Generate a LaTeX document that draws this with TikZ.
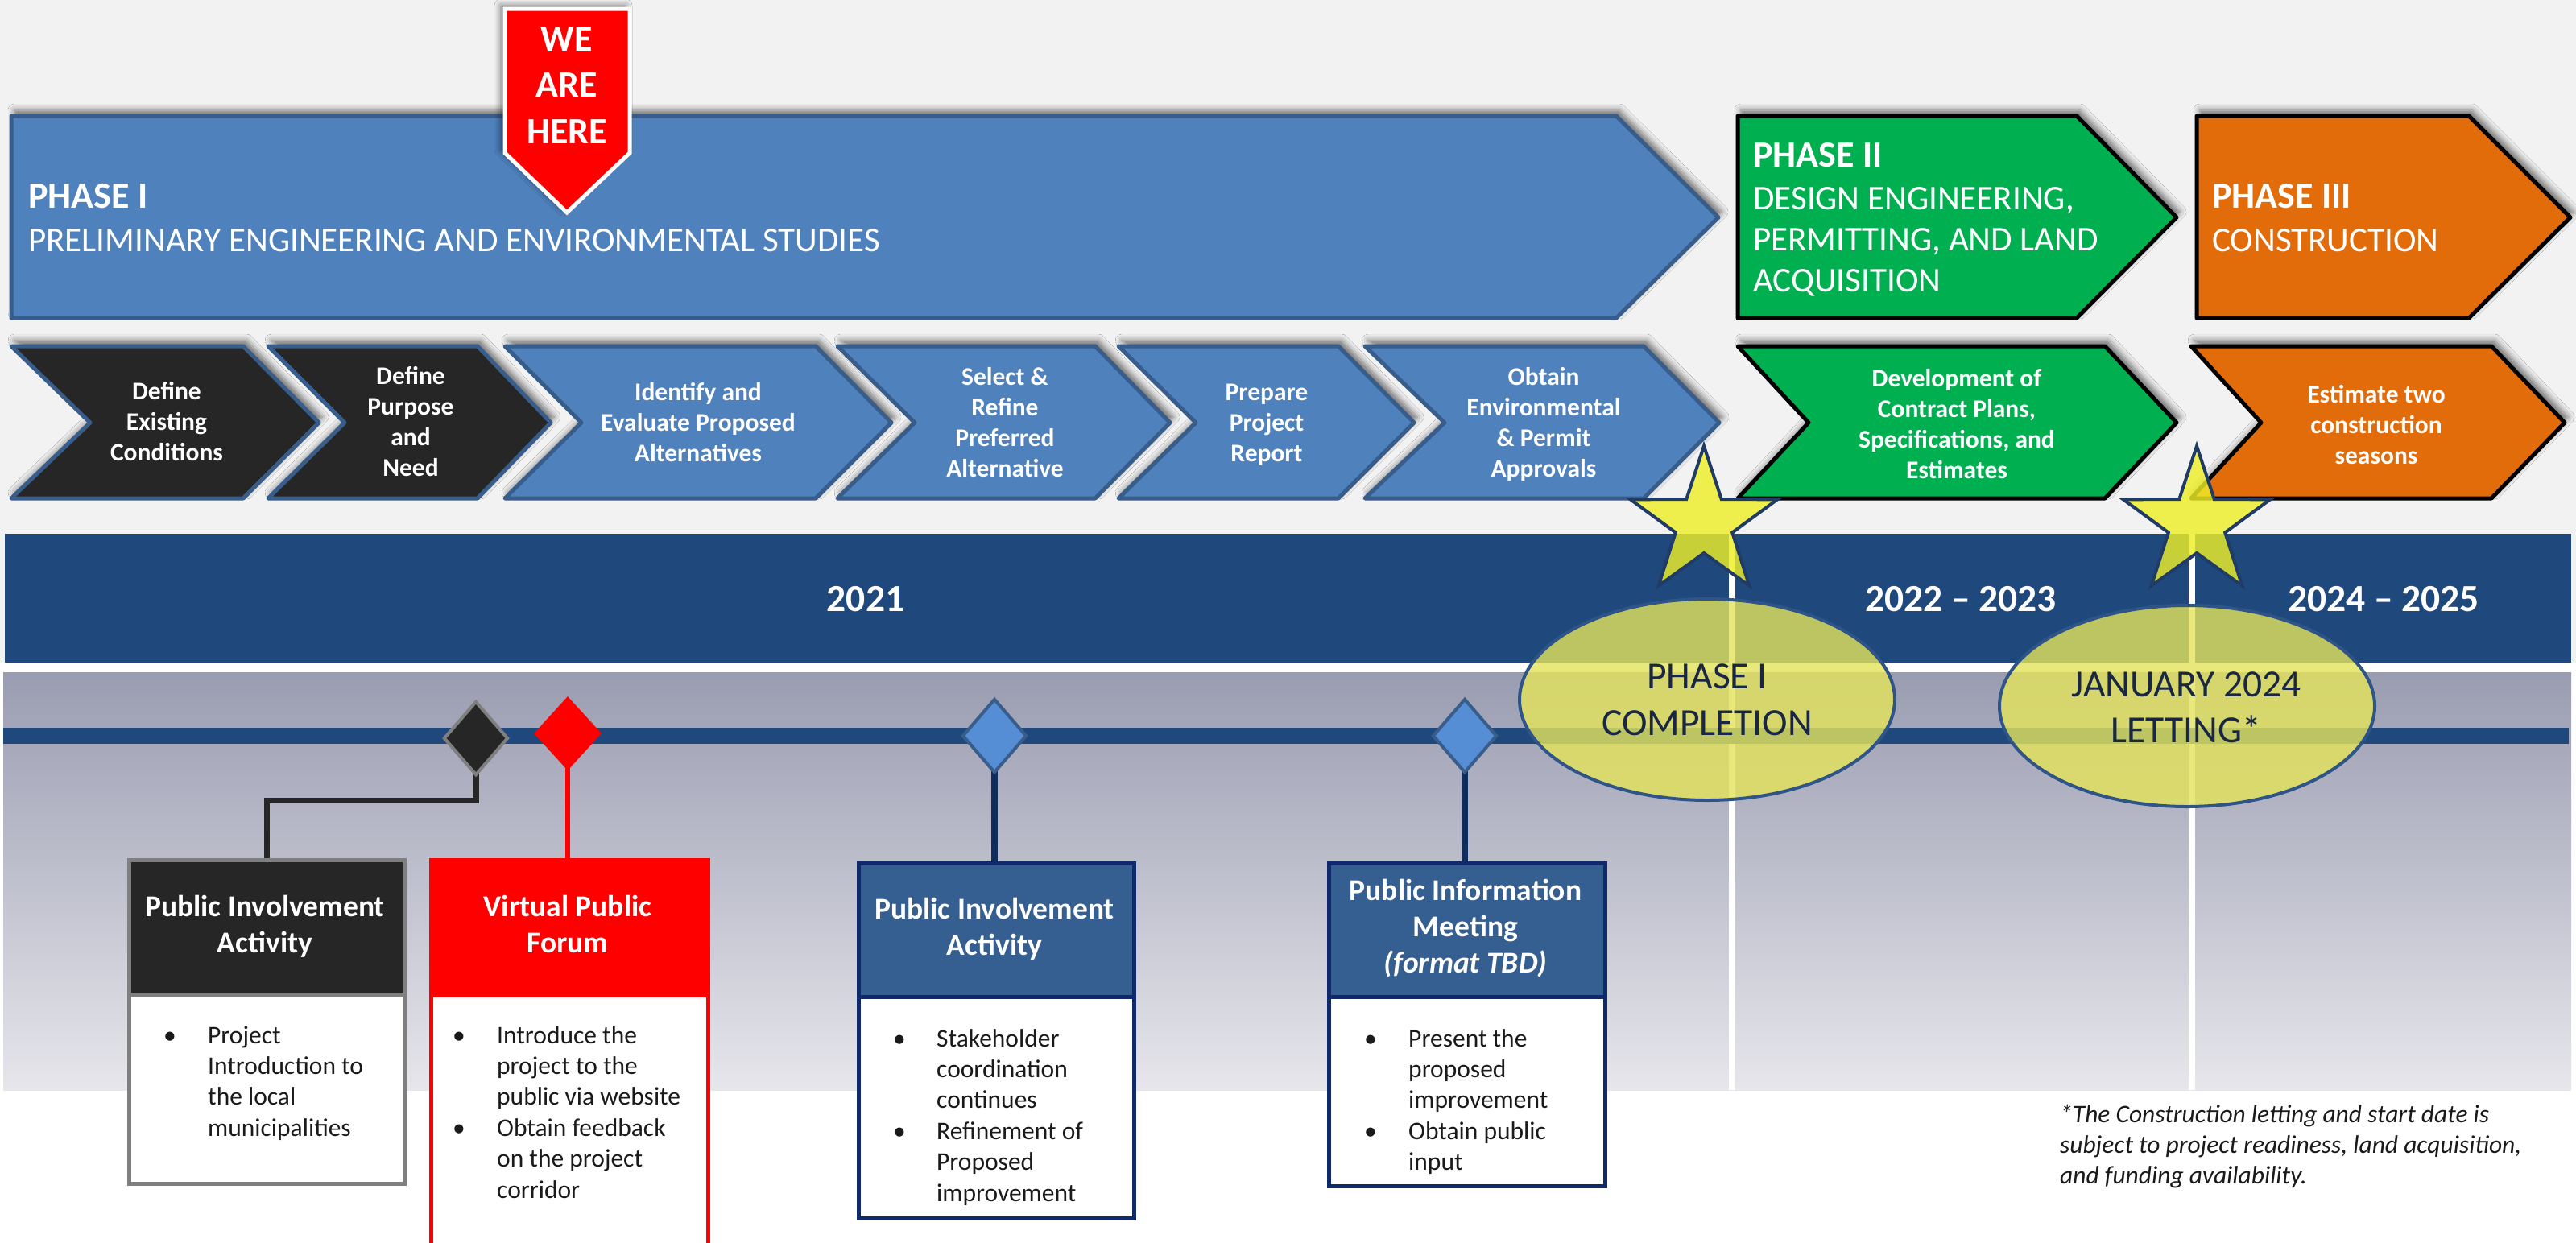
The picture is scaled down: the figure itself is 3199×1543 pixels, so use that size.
\documentclass[tikz,border=0pt]{standalone}
\usepackage{fontspec}
\setmainfont{Carlito}
\usetikzlibrary{shapes.geometric,shadows.blur}
\definecolor{bggrey}{HTML}{F2F2F2}
\definecolor{p1blue}{HTML}{4F81BD}
\definecolor{p1edge}{HTML}{385D8A}
\definecolor{darkfill}{HTML}{262626}
\definecolor{p2green}{HTML}{00B050}
\definecolor{p3orange}{HTML}{E36C0A}
\definecolor{yearblue}{HTML}{1F497D}
\definecolor{gtop}{HTML}{9A9CB1}
\definecolor{gbot}{HTML}{E6E6EB}
\definecolor{diafill}{HTML}{558ED5}
\definecolor{boxhead}{HTML}{365F91}
\definecolor{boxedge}{HTML}{10296B}
\definecolor{linkblue}{HTML}{0F2D5C}
\definecolor{ellfill}{HTML}{E4E45A}
\definecolor{elledge}{HTML}{2F5488}
\definecolor{elltxt}{HTML}{1A2744}
\definecolor{starfill}{HTML}{EEEE28}
\definecolor{staredge}{HTML}{1F3B66}
\definecolor{midgrey}{HTML}{7F7F7F}
\definecolor{bodytext}{HTML}{1A1A1A}
\newcommand\txtlines[6]{\foreach \myln [count=\i] in {#6}{\node[#1] (#2-\i) at (#3,{#4+(\i-1)*#5}) {\myln};}}
\newcommand\chev[5]{\draw[#1] (#2,430) -- (#4,430) -- (#5,525) -- (#4,619) -- (#2,619) -- (#3,525) -- cycle;}
\newcommand\phasearr[4]{\draw[#1] (#2,144) -- (#3,144) -- (#4,270) -- (#3,395) -- (#2,395) -- cycle;}
\newcommand\starat[1]{\draw[starstyle] (#1) +(270:96) -- +(306:37) -- +(342:96) -- +(18:37) -- +(54:96) -- +(90:37) -- +(126:96) -- +(162:37) -- +(198:96) -- +(234:37) -- cycle;}
\begin{document}
\begin{tikzpicture}[x=1pt,y=-1pt,
  shapeshadow/.style={blur shadow={shadow xshift=4pt,shadow yshift=7pt,shadow blur radius=8pt,shadow opacity=55}},
  chevblue/.style={fill=p1blue,draw=p1edge,line width=5pt,line join=round,shapeshadow},
  chevdark/.style={fill=darkfill,draw=p1edge,line width=5pt,line join=round,shapeshadow},
  chevgreen/.style={fill=p2green,draw=black,line width=5pt,line join=round,shapeshadow},
  chevorange/.style={fill=p3orange,draw=black,line width=5pt,line join=round,shapeshadow},
  steptext/.style={text=white,font=\bfseries\fontsize{31.5}{38}\selectfont,anchor=base,inner sep=0pt},
  phasebold/.style={text=white,font=\bfseries\fontsize{46}{54}\selectfont,anchor=base west,inner sep=0pt},
  phasereg/.style={text=white,font=\fontsize{43}{50}\selectfont,anchor=base west,inner sep=0pt},
  bannertext/.style={text=white,font=\bfseries\fontsize{46}{56}\selectfont,anchor=base,inner sep=0pt},
  yeartext/.style={text=white,font=\bfseries\fontsize{47.5}{56}\selectfont,anchor=base,inner sep=0pt},
  elltext/.style={text=elltxt,font=\fontsize{47.5}{56}\selectfont,anchor=base,inner sep=0pt},
  boxtitle/.style={text=white,font=\bfseries\fontsize{37.5}{44}\selectfont,anchor=base,inner sep=0pt},
  bodyline/.style={text=bodytext,font=\fontsize{31.5}{38}\selectfont,anchor=base west,inner sep=0pt},
  footline/.style={text=bodytext,font=\itshape\fontsize{31.5}{38}\selectfont,anchor=base west,inner sep=0pt},
  diablack/.style={diamond,fill=darkfill,draw=midgrey,line width=4pt,minimum width=80pt,minimum height=92pt,inner sep=0pt},
  diared/.style={diamond,fill=red,minimum width=84pt,minimum height=92pt,inner sep=0pt},
  diablue/.style={diamond,fill=diafill,draw=p1edge,line width=4pt,minimum width=80pt,minimum height=92pt,inner sep=0pt},
  connblack/.style={draw=darkfill,line width=7pt},
  connred/.style={draw=red,line width=6pt},
  bluelink/.style={draw=linkblue,line width=8pt},
  boxbody/.style={anchor=north west,inner sep=0pt,fill=white,line width=5pt},
  starstyle/.style={fill=starfill,fill opacity=0.82,draw=staredge,line width=4pt,line join=miter},
  ellstyle/.style={ellipse,draw=elledge,line width=4pt,fill=ellfill,fill opacity=0.8,inner sep=0pt,minimum width=466pt,minimum height=250pt}
]
\useasboundingbox (0,0) rectangle (3199,1543);
\fill[white] (0,0) rectangle (3199,1543);
\fill[bggrey] (0,0) rectangle (3199,823);
% year band and timeline area
\fill[yearblue] (6,663) rectangle (3193,823);
\shade[top color=gtop,bottom color=gbot] (4,835) rectangle (3193,1354);
\fill[white] (2147,663) rectangle (2155,1354);
\fill[white] (2718,663) rectangle (2726,1354);
\fill[yearblue] (4,904) rectangle (3190,924);
% phase arrows
\phasearr{chevblue}{14}{2007}{2134}
\phasearr{chevgreen}{2158}{2579}{2703}
\phasearr{chevorange}{2728}{3066}{3192}
\node[phasebold] (p1a) at (35,258) {PHASE I};
\node[phasereg] (p1b) at (35,312) {PRELIMINARY ENGINEERING AND ENVIRONMENTAL STUDIES};
\node[phasebold] (p2a) at (2177,207) {PHASE II};
\txtlines{phasereg}{p2b}{2177}{260}{51}{{DESIGN ENGINEERING,},{PERMITTING, AND LAND},ACQUISITION}
\node[phasebold] (p3a) at (2747,258) {PHASE III};
\node[phasereg] (p3b) at (2747,312) {CONSTRUCTION};
% banner
\draw[fill=red,draw=white,line width=5pt,line join=miter,blur shadow={shadow xshift=-5pt,shadow yshift=4pt,shadow blur radius=8pt,shadow opacity=55}]
  (627,11) -- (782,11) -- (782,190) -- (704,264) -- (627,190) -- cycle;
\txtlines{bannertext}{wah}{704}{63}{57.5}{WE,ARE,HERE}
% step chevrons
\chev{chevdark}{14}{112}{302}{396}
\chev{chevdark}{333}{428}{593}{684}
\chev{chevblue}{627}{722}{1013}{1107}
\chev{chevblue}{1040}{1136}{1360}{1453}
\chev{chevblue}{1389}{1485}{1662}{1756}
\chev{chevblue}{1695}{1794}{2041}{2135}
\chev{chevgreen}{2158}{2246}{2614}{2703}
\chev{chevorange}{2721}{2808}{3094}{3185}
\txtlines{steptext}{s1}{207}{496}{38.3}{Define,Existing,Conditions}
\txtlines{steptext}{s2}{510}{477}{38.3}{Define,Purpose,and,Need}
\txtlines{steptext}{s3}{867}{497}{38.3}{Identify and,Evaluate Proposed,Alternatives}
\txtlines{steptext}{s4}{1248}{478}{38.3}{Select \&,Refine,Preferred,Alternative}
\txtlines{steptext}{s5}{1573}{497}{38.3}{Prepare,Project,Report}
\txtlines{steptext}{s6}{1917}{478}{38.3}{Obtain,Environmental,\& Permit,Approvals}
\txtlines{steptext}{s7}{2430}{480}{38.3}{Development of,{Contract Plans,},{Specifications, and},Estimates}
\txtlines{steptext}{s8}{2951}{500}{38.3}{Estimate two,construction,seasons}
% boxes
\node[boxbody,draw=midgrey,minimum width=342pt,minimum height=402pt] (b1) at (158,1066) {};
\node[boxbody,draw=red,minimum width=344pt,minimum height=500pt] (b2) at (533,1066) {};
\node[boxbody,draw=boxedge,minimum width=342pt,minimum height=441pt] (b3) at (1064,1070) {};
\node[boxbody,draw=boxedge,minimum width=343pt,minimum height=401pt] (b4) at (1648,1070) {};
\node[boxbody,fill=darkfill,draw=midgrey,minimum width=342pt,minimum height=167pt] (b1h) at (158,1066) {};
\node[boxbody,fill=red,draw=red,minimum width=344pt,minimum height=168pt] (b2h) at (533,1066) {};
\node[boxbody,fill=boxhead,draw=boxedge,minimum width=342pt,minimum height=166pt] (b3h) at (1064,1070) {};
\node[boxbody,fill=boxhead,draw=boxedge,minimum width=343pt,minimum height=166pt] (b4h) at (1648,1070) {};
% milestone positions and connectors
\coordinate (m1) at (591,917);
\coordinate (m2) at (705,911);
\coordinate (m3) at (1235,914);
\coordinate (m4) at (1819,914);
\draw[connblack] (m1) -- ++(0,77) -| (b1h.north);
\draw[connred] (m2) -- (m2 |- b2h.north);
\draw[bluelink] (m3) -- (m3 |- b3h.north);
\draw[bluelink] (m4) -- (m4 |- b4h.north);
% milestone diamonds
\node[diablack] (d1) at (m1) {};
\node[diared] (d2) at (m2) {};
\node[diablue] (d3) at (m3) {};
\node[diablue] (d4) at (m4) {};
% box texts
\txtlines{boxtitle}{t1}{329}{1138}{45}{Public Involvement,Activity}
\txtlines{boxtitle}{t2}{705}{1138}{45}{Virtual Public,Forum}
\txtlines{boxtitle}{t3}{1235}{1141}{45}{Public Involvement,Activity}
\txtlines{boxtitle}{t4}{1820}{1118}{45}{Public Information,Meeting,\textit{(format TBD)}}
\node[bodyline] (k1) at (203,1296) {•};
\txtlines{bodyline}{l1}{258}{1296}{38.4}{Project,Introduction to,the local,municipalities}
\node[bodyline] (k2a) at (562,1296) {•};
\node[bodyline] (k2b) at (562,1411) {•};
\txtlines{bodyline}{l2}{617}{1296}{38.4}{Introduce the,project to the,public via website,Obtain feedback,on the project,corridor}
\node[bodyline] (k3a) at (1109,1300) {•};
\node[bodyline] (k3b) at (1109,1415) {•};
\txtlines{bodyline}{l3}{1163}{1300}{38.4}{Stakeholder,coordination,continues,Refinement of,Proposed,improvement}
\node[bodyline] (k4a) at (1694,1300) {•};
\node[bodyline] (k4b) at (1694,1415) {•};
\txtlines{bodyline}{l4}{1749}{1300}{38.4}{Present the,proposed,improvement,Obtain public,input}
% year labels
\node[yeartext] (y1) at (1075,759) {2021};
\node[yeartext] (y2) at (2435,759) {2022 – 2023};
\node[yeartext] (y3) at (2960,759) {2024 – 2025};
% stars
\coordinate (star1) at (2116,650);
\coordinate (star2) at (2728,650);
\starat{star1}
\starat{star2}
% ellipses
\node[ellstyle] (e1) at (2120,869) {};
\node[ellstyle] (e2) at (2716,877) {};
\txtlines{elltext}{e1t}{2120}{855}{58}{PHASE I,COMPLETION}
\txtlines{elltext}{e2t}{2715}{865}{57}{JANUARY 2024,LETTING*}
% footnote
\txtlines{footline}{fn}{2558}{1394}{38}{*The Construction letting and start date is,{subject to project readiness, land acquisition,},and funding availability.}
\end{tikzpicture}
\end{document}
